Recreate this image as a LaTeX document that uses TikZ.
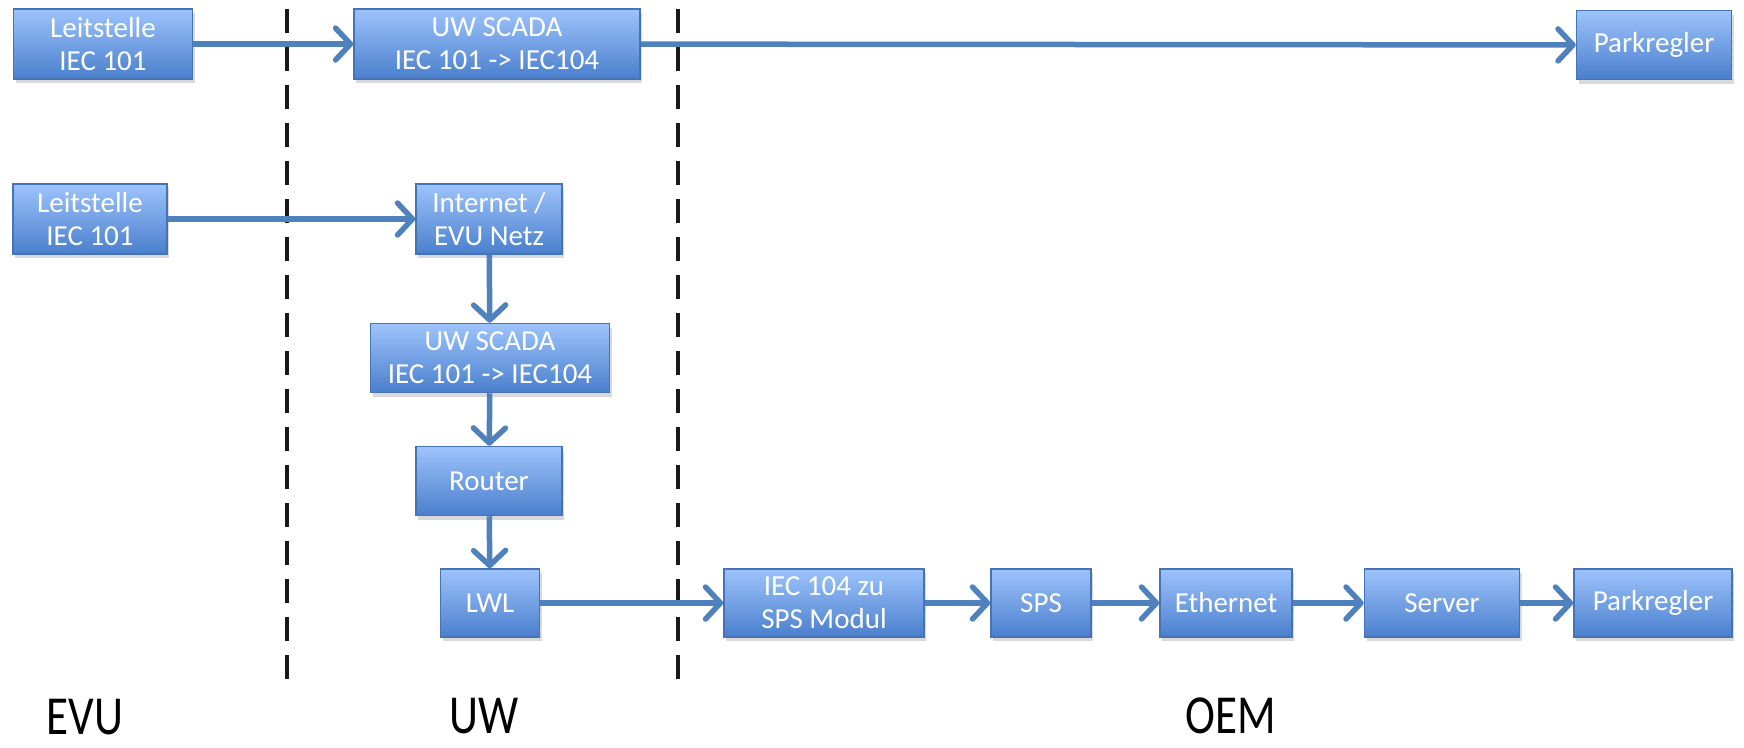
\documentclass[tikz,border=0pt]{standalone}
\usepackage{fontspec}
\setmainfont{Carlito}
\usetikzlibrary{arrows.meta,shadows}
\definecolor{boxtop}{HTML}{9DC3FB}
\definecolor{boxbot}{HTML}{4A7FCD}
\definecolor{boxline}{HTML}{4573B5}
\definecolor{arrowc}{HTML}{4F81BD}
\begin{document}
\begin{tikzpicture}[x=1pt,y=-1pt,
  box/.style={draw=boxline, line width=1.5pt, top color=boxtop, bottom color=boxbot,
    text=white, font=\fontsize{29}{33}\selectfont, align=center,
    minimum height=70pt, inner sep=0pt,
    drop shadow={opacity=0.3, shadow xshift=2pt, shadow yshift=-4pt}},
  conn/.style={draw=arrowc, line width=5.5pt, line join=round,
    -{Straight Barb[length=15pt,width=32pt,line cap=round,round]}},
  divider/.style={draw=black!90, line width=4.5pt, dash pattern=on 24pt off 14pt},
  zone/.style={font=\fontsize{55}{58}\selectfont, xscale=0.82, inner sep=0pt}]
\useasboundingbox (0,0) rectangle (1744,747);
% dividers
\coordinate (d1a) at (287,9); \coordinate (d1b) at (287,690);
\coordinate (d2a) at (678,9); \coordinate (d2b) at (678,690);
\draw[divider] (d1a) -- (d1b);
\draw[divider] (d2a) -- (d2b);
% top row
\node[box, minimum width=179pt] (l1) at (103,44) {Leitstelle\\IEC 101};
\node[box, minimum width=286pt] (s1) at (497,44) {UW SCADA\\IEC 101 -> IEC104};
\node[box, minimum width=155pt, minimum height=69pt] (p1) at (1654,45) {Parkregler};
% second chain
\node[box, minimum width=154pt] (l2) at (90,219) {Leitstelle\\IEC 101};
\node[box, minimum width=146pt] (inet) at (489,219) {Internet /\\EVU Netz};
\node[box, minimum width=239pt, minimum height=69pt] (s2) at (490,358) {UW SCADA\\IEC 101 -> IEC104};
\node[box, minimum width=146pt, minimum height=69pt] (rt) at (489,481) {Router};
\node[box, minimum width=99pt, minimum height=68pt] (lwl) at (490,603) {LWL};
\node[box, minimum width=200pt, minimum height=68pt] (iec) at (824,603) {IEC 104 zu\\SPS Modul};
\node[box, minimum width=100pt, minimum height=68pt] (sps) at (1041,603) {SPS};
\node[box, minimum width=132pt, minimum height=68pt] (eth) at (1226,603) {Ethernet};
\node[box, minimum width=155pt, minimum height=68pt] (srv) at (1442,603) {Server};
\node[box, minimum width=158pt, minimum height=68pt] (p2) at (1653,603) {Parkregler};
% connectors
\draw[conn] (l1) -- (s1);
\draw[conn] (s1) -- (p1);
\draw[conn] (l2) -- (inet);
\draw[conn] (inet) -- (s2);
\draw[conn] (s2) -- (rt);
\draw[conn] (rt) -- (lwl);
\draw[conn] (lwl) -- (iec);
\draw[conn] (iec) -- (sps);
\draw[conn] (sps) -- (eth);
\draw[conn] (eth) -- (srv);
\draw[conn] (srv) -- (p2);
% zone labels
\node[zone] (evu) at (85,717) {EVU};
\node[zone] (uw) at (484,716) {UW};
\node[zone] (oem) at (1231,716) {OEM};
\end{tikzpicture}
\end{document}
